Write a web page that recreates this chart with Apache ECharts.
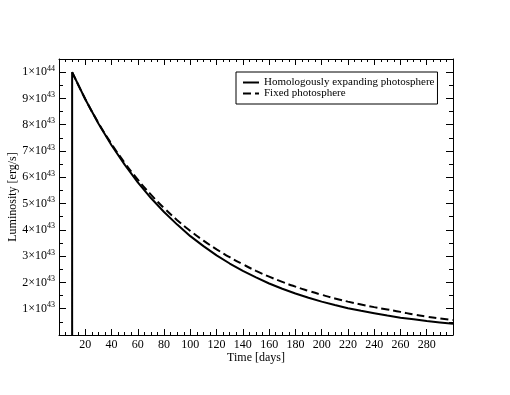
<!DOCTYPE html>
<html>
<head>
<meta charset="utf-8">
<script src="https://cdn.jsdelivr.net/npm/echarts@6/dist/echarts.min.js"></script>
<style>
  html, body { margin: 0; padding: 0; background: #fff; }
  #chart { width: 510px; height: 395px; }
</style>
</head>
<body>
<div id="chart"></div>
<script>
// time in days, luminosity in units of 1e43 erg/s
const days = [10, 20, 30, 40, 50, 60, 70, 80, 90, 100, 110, 120, 130, 140, 150,
  160, 170, 180, 190, 200, 210, 220, 230, 240, 250, 260, 270, 280, 290, 300];
const homologous = [10.0, 8.97, 8.05, 7.22, 6.48, 5.81, 5.21, 4.68, 4.20, 3.76, 3.38, 3.03, 2.72, 2.44, 2.19,
  1.96, 1.76, 1.58, 1.42, 1.27, 1.14, 1.02, 0.92, 0.83, 0.74, 0.66, 0.60, 0.53, 0.48, 0.43];
const fixed = [10.0, 8.98, 8.07, 7.27, 6.55, 5.91, 5.34, 4.83, 4.37, 3.96, 3.59, 3.26, 2.96, 2.69, 2.44,
  2.22, 2.02, 1.84, 1.68, 1.53, 1.39, 1.27, 1.16, 1.06, 0.97, 0.88, 0.78, 0.70, 0.63, 0.57];
const seriesNames = ["Homologously expanding photosphere", "Fixed photosphere"];

const font = "Liberation Serif";

// solid curve starts with a vertical rise at t = 10 d
const solidData = [[days[0], 0]].concat(days.map((d, i) => [d, homologous[i]]));
const dashedData = days.map((d, i) => [d, fixed[i]]);

const chart = echarts.init(document.getElementById("chart"));

const tickStyle = { color: "#000", width: 1 };

const xBase = {
  type: "value",
  min: 0,
  max: 300,
  interval: 20,
  axisLine: { show: true, onZero: false, lineStyle: { color: "#000", width: 1 } },
  axisTick: { show: true, inside: true, length: 6, lineStyle: tickStyle },
  minorTick: { show: true, splitNumber: 4, length: 3, lineStyle: tickStyle },
  splitLine: { show: false },
};
const yBase = {
  type: "value",
  min: 0,
  max: 10.5,
  interval: 1,
  axisLine: { show: true, onZero: false, lineStyle: { color: "#000", width: 1 } },
  axisTick: { show: true, inside: true, length: 7, lineStyle: tickStyle },
  minorTick: { show: true, splitNumber: 2, length: 4, lineStyle: tickStyle },
  splitLine: { show: false },
};

chart.setOption({
  animation: false,
  backgroundColor: "#fff",
  grid: { left: 59, right: 57, top: 59, bottom: 60, outerBoundsMode: "none", containLabel: false },
  legend: {
    orient: "vertical",
    left: 236,
    top: 72,
    padding: [5, 3, 5, 6],
    itemGap: 0,
    itemWidth: 16,
    itemHeight: 12,
    borderColor: "#000",
    borderWidth: 1,
    borderRadius: 0,
    backgroundColor: "#fff",
    itemStyle: { opacity: 0 },
    textStyle: { fontFamily: font, fontSize: 11, color: "#000" },
    data: seriesNames,
  },
  xAxis: [
    Object.assign({}, xBase, {
      position: "bottom",
      name: "Time [days]",
      nameLocation: "middle",
      nameGap: 17,
      nameMoveOverlap: false,
      nameTextStyle: { fontFamily: font, fontSize: 12, color: "#000" },
      axisLabel: {
        fontFamily: font, fontSize: 12, color: "#000", margin: 4,
        formatter: (v) => (v === 0 || v === 300 ? "" : String(v)),
      },
    }),
    Object.assign({}, xBase, { position: "top", axisLabel: { show: false } }),
  ],
  yAxis: [
    Object.assign({}, yBase, {
      position: "left",
      name: "Luminosity [erg/s]",
      nameLocation: "middle",
      nameGap: 40,
      nameMoveOverlap: false,
      nameTextStyle: { fontFamily: font, fontSize: 12, color: "#000" },
      axisLabel: {
        fontFamily: font, fontSize: 12, color: "#000", margin: 4,
        formatter: (v) => {
          if (v === 10) return "1×10{sup|44}";
          if (v > 0 && v < 10 && Number.isInteger(v)) return v + "×10{sup|43}";
          return "";
        },
        rich: {
          sup: { fontFamily: font, fontSize: 8, color: "#000", verticalAlign: "top", padding: [0, 0, 7, 0] },
        },
      },
    }),
    Object.assign({}, yBase, { position: "right", axisLabel: { show: false } }),
  ],
  series: [
    {
      name: seriesNames[0],
      type: "line",
      xAxisIndex: 0,
      yAxisIndex: 0,
      data: solidData,
      symbol: "none",
      smooth: false,
      lineStyle: { color: "#000", width: 2, type: "solid" },
      itemStyle: { color: "#000" },
    },
    {
      name: seriesNames[1],
      type: "line",
      xAxisIndex: 0,
      yAxisIndex: 0,
      data: dashedData,
      symbol: "none",
      smooth: true,
      lineStyle: { color: "#000", width: 2, type: [8, 4] },
      itemStyle: { color: "#000" },
    },
  ],
});
</script>
</body>
</html>
